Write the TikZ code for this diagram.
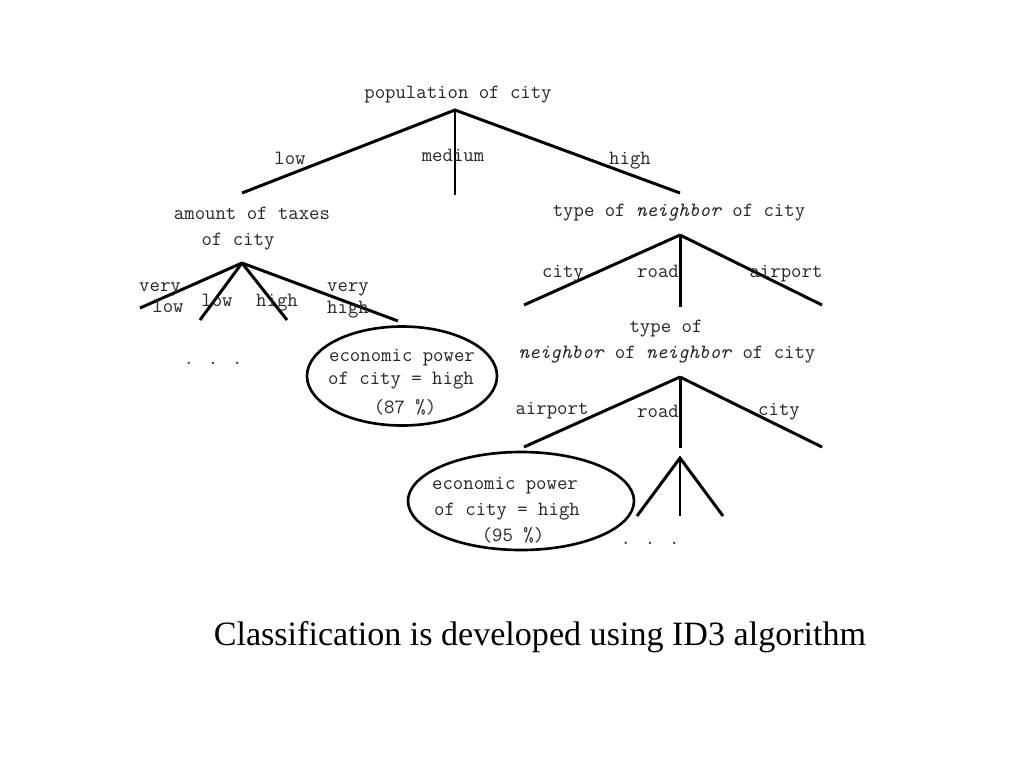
\documentclass[tikz,border=0pt]{standalone}
\usepackage{fontspec}
\setmainfont{Liberation Serif}
\usetikzlibrary{positioning,shapes.geometric}
\tikzset{>=latex}
\tikzset{
  lbl/.style={font=\ttfamily\fontsize{11.5}{13}\selectfont, inner sep=0pt, text height=7.5pt, text depth=2.2pt, text=black!85},
  branch/.style={line width=1.7pt},
  thin branch/.style={line width=0.6pt},
  leaf/.style={draw, ellipse, line width=1.5pt, inner sep=0pt},
}

\begin{document}
\begin{tikzpicture}[x=0.02cm, y=-0.02cm]
    \useasboundingbox (0,0) rectangle (1024,768);
    % root
    \node[lbl] (root) at (458,94) {population of city};
    \coordinate (r) at (455,110);
    \coordinate (rl) at (242,193);
    \coordinate (rm) at (455,195);
    \coordinate (rh) at (680,193);
    \draw[branch] (rl) -- (r) -- (rh);
    \draw[thin branch] (r) -- (rm);
    \node[lbl] (lowA) at (290,160) {low};
    \node[lbl] (medA) at (453,157) {medium};
    \node[lbl] (highA) at (630,160) {high};

    % taxes subtree
    \node[lbl] (tax1) at (252,215) {amount of taxes};
    \node[lbl] (tax2) at (238,241) {of city};
    \coordinate (t) at (242,263);
    \coordinate (t1) at (140,308);
    \coordinate (t2) at (200,320);
    \coordinate (t3) at (287,320);
    \coordinate (t4) at (398,321);
    \foreach \e in {t1,t2,t3,t4}{
        \draw[branch] (t) -- (\e);
    }
    \node[lbl] (vl1) at (160,287) {very};
    \node[lbl] (vl2) at (168,308) {low};
    \node[lbl] (lowB) at (217,302) {low};
    \node[lbl] (highB) at (277,302) {high};
    \node[lbl] (vh1) at (348,287) {very};
    \node[lbl] (vh2) at (348,309) {high};
    \node[lbl] (dotsA) at (213,360) {. . .};

    \node[leaf, minimum width=190*0.02cm, minimum height=99*0.02cm] (leafA) at (402,376) {};
    \node[lbl] (epA1) at (402,357) {economic power};
    \node[lbl] (epA2) at (401,380) {of city = high};
    \node[lbl] (epA3) at (405,409) {(87 \%)};

    % neighbor subtree
    \node[lbl] (nb) at (679,212) {type of \textit{neighbor} of city};
    \coordinate (n) at (680,235);
    \coordinate (n1) at (524,305);
    \coordinate (n2) at (680,307);
    \coordinate (n3) at (822,305);
    \foreach \e in {n1,n2,n3}{
        \draw[branch] (n) -- (\e);
    }
    \node[lbl] (cityC) at (563,273) {city};
    \node[lbl] (roadC) at (658,273) {road};
    \node[lbl] (airC) at (786,273) {airport};

    % neighbor of neighbor subtree
    \node[lbl] (nn1) at (666,328) {type of};
    \node[lbl] (nn2) at (667,354) {\textit{neighbor} of \textit{neighbor} of city};
    \coordinate (m) at (680,377);
    \coordinate (m1) at (524,447);
    \coordinate (m2) at (680,448);
    \coordinate (m3) at (822,447);
    \foreach \e in {m1,m2,m3}{
        \draw[branch] (m) -- (\e);
    }
    \node[lbl] (airD) at (552,410) {airport};
    \node[lbl] (roadD) at (658,413) {road};
    \node[lbl] (cityD) at (779,411) {city};

    \node[leaf, minimum width=226*0.02cm, minimum height=98*0.02cm] (leafB) at (521,501) {};
    \node[lbl] (epB1) at (505,485) {economic power};
    \node[lbl] (epB2) at (507,511) {of city = high};
    \node[lbl] (epB3) at (513,537) {(95 \%)};

    \coordinate (s) at (680,458);
    \coordinate (s1) at (637,516);
    \coordinate (s2) at (680,516);
    \coordinate (s3) at (723,516);
    \draw[branch] (s1) -- (s) -- (s3);
    \draw[thin branch] (s) -- (s2);
    \node[lbl] (dotsB) at (650,540) {. . .};

    % caption
    \node[font=\fontsize{19.4}{24}\selectfont, inner sep=0pt] (caption) at (540,637) {Classification is developed using ID3 algorithm};
\end{tikzpicture}
\end{document}
